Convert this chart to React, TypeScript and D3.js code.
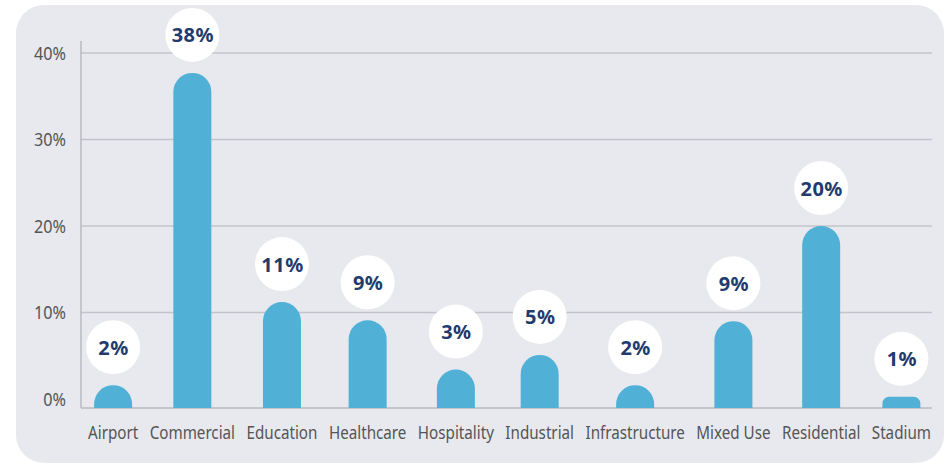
import React, { useMemo } from "react";
import * as d3 from "d3";

const categories = [
  "Airport",
  "Commercial",
  "Education",
  "Healthcare",
  "Hospitality",
  "Industrial",
  "Infrastructure",
  "Mixed Use",
  "Residential",
  "Stadium",
];
const values = [1.6, 37.7, 11.2, 9.1, 3.4, 5.1, 1.6, 9.0, 20.0, 0.25];
const valueLabels = ["2%", "38%", "11%", "9%", "3%", "5%", "2%", "9%", "20%", "1%"];
const yTicks = [0, 10, 20, 30, 40];

const W = 947;
const H = 464;
const LABEL_SIZE = 19;
const LABEL_SQUEEZE = 0.8;
const LABEL_FONT = `${LABEL_SIZE}px 'Noto Sans'`;

function measure(texts: string[], font: string): number[] {
  const c = document.createElement("canvas");
  const ctx = c.getContext("2d");
  if (!ctx) return texts.map((t) => t.length * 8);
  ctx.font = font;
  return texts.map((t) => ctx.measureText(t).width);
}

export default function App() {
  const plotLeft = 81;
  const plotRight = 932;
  const baseline = 408;
  const y = d3.scaleLinear().domain([0, 40]).range([399, 53]);

  const x = useMemo(() => {
    const widths = measure(categories, LABEL_FONT).map((w) => w * LABEL_SQUEEZE);
    const left = 88;
    const right = 931;
    const sum = d3.sum(widths);
    const gap = (right - left - sum) / (categories.length - 1);
    const centers: number[] = [];
    let cur = left;
    widths.forEach((w) => {
      centers.push(cur + w / 2);
      cur += w + gap;
    });
    return d3.scaleOrdinal<string, number>().domain(categories).range(centers);
  }, []);

  const bw = 38;
  const barPath = (cx: number, v: number) => {
    const top = y(v);
    const h = baseline - top;
    const r = h >= bw / 2 ? bw / 2 : h * 0.6;
    const x0 = cx - bw / 2;
    const x1 = cx + bw / 2;
    const p = d3.path();
    p.moveTo(x0, baseline);
    p.lineTo(x0, top + r);
    p.arcTo(x0, top, x0 + r, top, r);
    p.lineTo(x1 - r, top);
    p.arcTo(x1, top, x1, top + r, r);
    p.lineTo(x1, baseline);
    p.closePath();
    return p.toString();
  };

  return (
    <svg
      width={W}
      height={H}
      style={{ position: "absolute", left: 0, top: 0, background: "#ffffff" }}
    >
      <rect x={16} y={5} width={928} height={458} rx={28} ry={28} fill="#e8e9ee" />
      {yTicks.filter((t) => t > 0).map((t) => (
        <line
          key={"g" + t}
          x1={plotLeft}
          x2={plotRight}
          y1={y(t)}
          y2={y(t)}
          stroke="#c3c4cb"
          strokeWidth={1.5}
        />
      ))}
      <line x1={plotLeft} x2={plotLeft} y1={41} y2={baseline} stroke="#b9bac1" strokeWidth={1.5} />
      <line x1={plotLeft} x2={plotRight} y1={baseline} y2={baseline} stroke="#b9bac1" strokeWidth={1.5} />
      {yTicks.map((t) => (
        <text
          key={"t" + t}
          transform={`translate(66,${y(t)}) scale(0.9,1)`}
          textAnchor="end"
          dominantBaseline="central"
          fontFamily="'Noto Sans'"
          fontSize={18}
          fill="#555555"
        >
          {t + "%"}
        </text>
      ))}
      {categories.map((c, i) => (
        <g key={c}>
          <path d={barPath(x(c), values[i])} fill="#50b0d6" />
          <circle cx={x(c)} cy={y(values[i]) - 38} r={27} fill="#ffffff" />
          <text
            x={x(c) + 0.5}
            y={y(values[i]) - 38}
            textAnchor="middle"
            dominantBaseline="central"
            fontFamily="'Noto Sans'"
            fontWeight="bold"
            fontSize={20}
            letterSpacing={0.5}
            fill="#223a6e"
          >
            {valueLabels[i]}
          </text>
          <text
            transform={`translate(${x(c)},432) scale(${LABEL_SQUEEZE},1)`}
            textAnchor="middle"
            dominantBaseline="central"
            style={{ font: LABEL_FONT }}
            fill="#555555"
          >
            {c}
          </text>
        </g>
      ))}
    </svg>
  );
}
